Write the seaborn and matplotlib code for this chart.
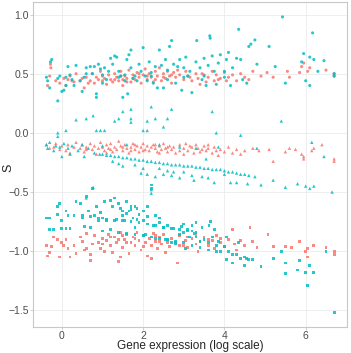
import pandas as pd
import seaborn as sns
import matplotlib.pyplot as plt

# points, (log expression, S)
salmon_top = [
    (-0.35, 0.40), (-0.3, 0.48), (-0.28, 0.58), (-0.27, 0.55), (-0.15, 0.44), (-0.05, 0.42), (0.05, 0.46),
    (0.1, 0.40), (0.15, 0.45), (0.25, 0.44), (0.3, 0.43), (0.35, 0.50), (0.45, 0.44), (0.5, 0.46), (0.55, 0.38),
    (0.6, 0.47), (0.7, 0.44), (0.75, 0.50), (0.8, 0.42), (0.85, 0.47), (0.9, 0.45), (0.95, 0.52), (1.0, 0.44),
    (1.05, 0.46), (1.1, 0.41), (1.15, 0.49), (1.2, 0.45), (1.25, 0.43), (1.3, 0.50), (1.35, 0.47), (1.4, 0.44),
    (1.45, 0.52), (1.5, 0.45), (1.5, 0.40), (1.55, 0.48), (1.6, 0.46), (1.65, 0.53), (1.7, 0.43), (1.75, 0.49),
    (1.8, 0.45), (1.85, 0.51), (1.9, 0.47), (1.95, 0.42), (2.0, 0.49), (2.05, 0.54), (2.1, 0.45), (2.15, 0.50),
    (2.2, 0.47), (2.25, 0.43), (2.3, 0.52), (2.35, 0.48), (2.4, 0.55), (2.45, 0.44), (2.5, 0.50), (2.55, 0.46),
    (2.6, 0.52), (2.65, 0.48), (2.7, 0.42), (2.75, 0.51), (2.8, 0.47), (2.9, 0.49), (3.0, 0.45), (3.05, 0.52),
    (3.1, 0.48), (3.2, 0.44), (3.3, 0.50), (3.35, 0.46), (3.4, 0.41), (3.5, 0.49), (3.6, 0.47), (3.7, 0.52),
    (3.75, 0.44), (3.8, 0.49), (3.9, 0.46), (4.0, 0.51), (4.1, 0.47), (4.2, 0.49), (4.3, 0.44), (4.4, 0.50),
    (4.5, 0.47), (4.7, 0.52), (4.9, 0.48), (5.2, 0.47), (5.55, 0.52), (5.6, 0.47), (5.85, 0.51), (5.95, 0.59),
    (6.1, 0.55), (6.5, 0.53), (6.7, 0.50), (6.7, 0.48), (1.3, 0.45), (1.45, 0.48), (1.6, 0.43), (1.75, 0.46),
    (1.9, 0.50), (2.1, 0.48), (2.3, 0.45), (2.5, 0.47), (2.7, 0.49), (3.15, 0.47), (3.45, 0.50), (3.85, 0.45),
    (0.2, 0.48), (0.65, 0.42), (1.0, 0.48), (2.85, 0.53), (3.55, 0.43), (4.05, 0.44), (4.6, 0.45), (5.05, 0.51),
    (5.9, 0.56), (6.05, 0.52),
]
teal_top = [
    (-0.38, 0.47), (-0.35, 0.44), (-0.3, 0.38), (-0.28, 0.60), (-0.25, 0.62), (-0.1, 0.27), (-0.1, 0.46),
    (-0.05, 0.48), (0.0, 0.35), (0.05, 0.36), (0.1, 0.47), (0.15, 0.56), (0.2, 0.49), (0.25, 0.45), (0.3, 0.40),
    (0.35, 0.57), (0.45, 0.44), (0.5, 0.35), (0.55, 0.47), (0.6, 0.55), (0.7, 0.56), (0.75, 0.50), (0.8, 0.56),
    (0.85, 0.33), (0.85, 0.30), (0.9, 0.58), (0.95, 0.54), (1.0, 0.49), (1.05, 0.55), (1.1, 0.45), (1.15, 0.52),
    (1.2, 0.63), (1.25, 0.58), (1.3, 0.65), (1.35, 0.64), (1.4, 0.52), (1.45, 0.48), (1.5, 0.30), (1.55, 0.49),
    (1.6, 0.62), (1.62, 0.33), (1.65, 0.66), (1.7, 0.70), (1.7, 0.55), (1.75, 0.46), (1.8, 0.48), (1.85, 0.44),
    (1.9, 0.58), (1.95, 0.52), (2.0, 0.72), (2.05, 0.48), (2.1, 0.44), (2.15, 0.60), (2.2, 0.51), (2.25, 0.42),
    (2.3, 0.56), (2.35, 0.38), (2.4, 0.70), (2.45, 0.57), (2.5, 0.38), (2.55, 0.62), (2.6, 0.53), (2.65, 0.73),
    (2.7, 0.78), (2.75, 0.58), (2.8, 0.42), (2.85, 0.56), (2.9, 0.62), (2.95, 0.36), (3.0, 0.55), (3.05, 0.64),
    (3.1, 0.48), (3.15, 0.52), (3.2, 0.34), (3.3, 0.60), (3.32, 0.78), (3.4, 0.55), (3.45, 0.45), (3.5, 0.63),
    (3.55, 0.40), (3.6, 0.57), (3.64, 0.82), (3.65, 0.80), (3.7, 0.65), (3.75, 0.52), (3.8, 0.41), (3.85, 0.59),
    (3.9, 0.66), (4.0, 0.52), (4.05, 0.62), (4.1, 0.68), (4.15, 0.40), (4.2, 0.55), (4.3, 0.63), (4.35, 0.875),
    (4.4, 0.62), (4.45, 0.45), (4.55, 0.42), (4.6, 0.73), (4.65, 0.75), (4.75, 0.785), (4.8, 0.58), (5.1, 0.73),
    (5.25, 0.56), (5.43, 0.98), (5.5, 0.42), (5.9, 0.60), (5.95, 0.67), (6.0, 0.44), (6.1, 0.64), (6.1, 0.40),
    (6.17, 0.845), (6.2, 0.62), (6.3, 0.52), (6.45, 0.61), (6.7, 0.50), (6.7, 0.48), (0.1, 0.40), (0.6, 0.50),
    (1.0, 0.42), (1.4, 0.47), (1.55, 0.44), (2.2, 0.48), (2.6, 0.45), (3.0, 0.47), (3.5, 0.48), (4.0, 0.47),
]
salmon_mid = [
    (-0.38, -0.10), (-0.3, -0.13), (-0.2, -0.12), (-0.15, -0.09), (-0.05, -0.14), (0.0, -0.11), (0.1, -0.15),
    (0.15, -0.10), (0.2, -0.17), (0.3, -0.12), (0.35, -0.08), (0.45, -0.13), (0.5, -0.10), (0.55, -0.16),
    (0.6, -0.12), (0.7, -0.09), (0.75, -0.14), (0.8, -0.11), (0.85, -0.18), (0.9, -0.13), (0.95, -0.08),
    (1.0, -0.12), (1.05, -0.15), (1.1, -0.10), (1.15, -0.13), (1.2, -0.09), (1.25, -0.16), (1.3, -0.12),
    (1.35, -0.14), (1.4, -0.07), (1.45, -0.11), (1.5, -0.15), (1.55, -0.10), (1.6, -0.13), (1.65, -0.17),
    (1.7, -0.12), (1.75, -0.09), (1.8, -0.14), (1.85, -0.11), (1.9, -0.16), (1.95, -0.12), (2.0, -0.09),
    (2.05, -0.14), (2.1, -0.11), (2.15, -0.15), (2.2, -0.12), (2.25, -0.10), (2.3, -0.13), (2.35, -0.16),
    (2.4, -0.11), (2.45, -0.14), (2.5, -0.09), (2.55, -0.13), (2.6, -0.16), (2.65, -0.11), (2.7, -0.14),
    (2.75, -0.12), (2.8, -0.17), (2.9, -0.10), (3.0, -0.13), (3.05, -0.09), (3.1, -0.15), (3.2, -0.12),
    (3.25, -0.17), (3.3, -0.10), (3.35, -0.13), (3.4, -0.16), (3.5, -0.11), (3.55, -0.15), (3.6, -0.13),
    (3.7, -0.17), (3.75, -0.12), (3.8, -0.15), (3.85, -0.19), (3.9, -0.14), (4.0, -0.16), (4.1, -0.12),
    (4.2, -0.17), (4.3, -0.14), (4.4, -0.18), (4.5, -0.15), (4.7, -0.13), (4.85, -0.15), (5.1, -0.14),
    (5.2, -0.24), (5.5, -0.16), (5.6, -0.13), (5.75, -0.14), (5.9, -0.18), (5.95, -0.20), (5.95, -0.22),
    (6.15, -0.15), (6.2, -0.13), (6.4, -0.10), (6.7, -0.22), (6.7, -0.24), (1.2, -0.14), (1.5, -0.12),
    (1.8, -0.10), (2.0, -0.15), (2.3, -0.10), (2.6, -0.12), (2.9, -0.15), (3.15, -0.11), (3.45, -0.14),
    (0.6, -0.14), (1.1, -0.17), (1.7, -0.15), (2.4, -0.17), (3.0, -0.18), (3.6, -0.10),
]
teal_mid = [
    (-0.38, -0.10), (-0.35, -0.13), (-0.3, -0.08), (-0.2, -0.15), (-0.15, -0.11), (-0.1, 0.0), (-0.1, -0.03),
    (-0.05, -0.12), (0.0, -0.20), (0.05, -0.09), (0.1, 0.02), (0.15, -0.13), (0.2, -0.18), (0.25, -0.11),
    (0.35, 0.11), (0.4, -0.15), (0.5, -0.10), (0.55, -0.20), (0.6, 0.12), (0.65, -0.13), (0.77, 0.145),
    (0.8, -0.17), (0.85, 0.02), (0.95, 0.02), (1.05, 0.02), (0.77, -0.46), (0.6, -0.55),
    (0.93, -0.18), (1.0, -0.18), (1.1, -0.19), (1.2, -0.19), (1.3, -0.20), (1.4, -0.20), (1.5, -0.21),
    (1.6, -0.21), (1.7, -0.22), (1.8, -0.22), (1.9, -0.23), (2.0, -0.23), (2.1, -0.24), (2.2, -0.24),
    (2.3, -0.25), (2.4, -0.25), (2.5, -0.26), (2.6, -0.26), (2.7, -0.27), (2.8, -0.27), (2.9, -0.27),
    (3.0, -0.28), (3.1, -0.28), (3.2, -0.28), (3.3, -0.29), (3.4, -0.29), (3.5, -0.30), (3.6, -0.30),
    (3.7, -0.31), (3.8, -0.31), (3.9, -0.31), (4.0, -0.32), (4.1, -0.33), (4.2, -0.33), (4.3, -0.34),
    (4.4, -0.35), (4.5, -0.35), (4.6, -0.36), (4.75, -0.37),
    (1.25, -0.24), (1.4, -0.26), (1.5, -0.28), (1.3, 0.10), (1.4, 0.12), (1.5, 0.18), (1.7, 0.20), (1.7, 0.12),
    (1.7, 0.09), (2.0, 0.02), (2.1, 0.02), (2.1, 0.10), (2.2, 0.22), (2.3, 0.12), (2.5, 0.05), (2.6, 0.12),
    (2.7, 0.20), (1.95, -0.34), (2.1, -0.35), (2.3, -0.37), (2.5, -0.35), (2.7, -0.36), (2.75, -0.33),
    (2.2, -0.48), (2.2, -0.51), (2.0, -0.30), (1.8, -0.27), (2.4, -0.30), (2.6, -0.32), (2.9, -0.38),
    (3.0, -0.33), (3.2, -0.36), (3.25, -0.40), (3.45, -0.37), (3.7, 0.18), (3.8, 0.00), (3.85, -0.12),
    (4.4, -0.02), (4.15, -0.42), (4.3, -0.42), (4.57, -0.43), (4.9, -0.44), (5.2, -0.40), (5.4, 0.10),
    (5.5, -0.46), (5.8, -0.43), (6.0, -0.45), (6.1, -0.47), (6.2, -0.45), (6.15, -0.08), (6.45, -0.20),
    (6.65, -0.50), (4.8, -0.13), (3.55, -0.22), (3.3, -0.13), (2.9, -0.12), (2.4, -0.10), (1.6, -0.10),
    (1.0, -0.11), (3.6, -0.38), (3.75, -0.42), (4.0, -0.35),
]
salmon_low = [
    (-0.38, -0.95), (-0.35, -1.04), (-0.3, -1.01), (-0.25, -0.96), (-0.2, -0.88), (-0.1, -0.90), (-0.05, -1.05),
    (0.0, -0.93), (0.05, -0.95), (0.1, -0.90), (0.15, -0.98), (0.2, -1.05), (0.3, -0.95), (0.35, -1.02),
    (0.45, -0.88), (0.5, -0.92), (0.55, -0.99), (0.6, -0.85), (0.7, -1.03), (0.7, -1.08), (0.75, -0.94),
    (0.8, -0.87), (0.9, -0.93), (0.95, -0.98), (1.0, -0.89), (1.05, -1.0), (1.1, -0.91), (1.15, -0.86),
    (1.2, -0.95), (1.25, -1.01), (1.3, -0.88), (1.35, -0.93), (1.4, -1.09), (1.45, -0.84), (1.5, -0.97),
    (1.55, -0.90), (1.6, -0.86), (1.65, -1.02), (1.7, -0.93), (1.75, -0.88), (1.8, -0.95), (1.85, -0.84),
    (1.9, -0.91), (1.95, -0.99), (2.0, -0.87), (2.05, -0.93), (2.1, -1.04), (2.15, -0.89), (2.2, -0.95),
    (2.25, -0.85), (2.3, -0.92), (2.35, -0.98), (2.4, -0.88), (2.45, -0.94), (2.5, -0.86), (2.55, -1.01),
    (2.6, -0.91), (2.65, -0.96), (2.7, -0.89), (2.8, -0.93), (2.85, -1.10), (2.9, -0.87), (3.0, -0.95),
    (3.05, -0.91), (3.1, -0.97), (3.2, -0.89), (3.3, -0.94), (3.35, -1.0), (3.4, -0.92), (3.5, -0.88),
    (3.6, -0.95), (3.7, -0.91), (3.75, -0.98), (3.8, -0.87), (3.9, -0.93), (4.0, -0.96), (4.1, -0.90),
    (4.2, -0.82), (4.25, -0.94), (4.3, -0.99), (4.4, -0.91), (4.5, -0.95), (4.63, -0.80), (4.7, -0.92),
    (4.8, -0.97), (5.07, -0.86), (5.2, -0.96), (5.5, -0.96), (5.65, -0.97), (5.85, -0.92), (6.0, -1.0),
    (6.05, -0.98), (6.05, -1.05), (6.2, -0.95), (6.5, -0.97), (6.7, -1.0), (6.7, -1.03), (1.4, -0.90),
    (1.6, -0.93), (1.8, -0.89), (2.0, -0.96), (2.3, -0.87), (2.6, -0.93), (3.1, -0.88), (3.6, -0.90),
    (1.2, -0.88), (1.5, -0.87), (2.4, -0.92), (2.9, -0.95), (3.9, -0.89), (0.6, -0.98), (1.0, -0.94),
    (1.45, -1.05), (2.2, -1.06), (3.3, -0.86),
]
teal_low = [
    (-0.38, -0.72), (-0.3, -0.72), (-0.3, -0.82), (-0.2, -0.82), (-0.1, -0.62), (-0.1, -0.69), (-0.05, -0.60),
    (0.0, -0.74), (0.0, -0.81), (0.1, -0.66), (0.1, -0.81), (0.15, -0.70), (0.2, -0.81), (0.3, -0.70),
    (0.35, -0.58), (0.45, -0.60), (0.5, -0.72), (0.55, -0.79), (0.6, -0.54), (0.65, -0.66), (0.7, -0.80),
    (0.75, -0.47), (0.8, -0.70), (0.85, -0.62), (0.9, -0.74), (0.95, -0.67), (1.0, -0.72), (1.05, -0.58),
    (1.1, -0.74), (1.2, -0.57), (1.25, -0.62), (1.3, -0.55), (1.35, -0.73), (1.4, -0.60), (1.45, -0.64),
    (1.5, -0.70), (1.55, -0.74), (1.6, -0.58), (1.65, -0.66), (1.7, -0.62), (1.7, -0.65), (1.75, -0.72),
    (1.8, -0.80), (1.85, -0.73), (1.9, -0.69), (2.0, -0.74), (2.05, -0.86), (2.1, -0.71), (2.2, -0.44),
    (2.2, -0.47), (2.25, -0.78), (2.3, -0.89), (2.4, -0.76), (2.5, -0.80), (2.55, -0.90), (2.6, -0.78),
    (2.7, -0.93), (2.75, -0.81), (2.8, -0.94), (2.9, -0.86), (2.95, -0.79), (3.0, -0.84), (3.05, -0.98),
    (3.1, -0.82), (3.15, -0.88), (3.2, -0.83), (3.25, -0.85), (3.3, -0.88), (3.4, -0.92), (3.5, -0.90),
    (3.6, -0.93), (3.62, -0.78), (3.65, -0.75), (3.7, -0.88), (3.75, -0.82), (3.8, -0.95), (3.85, -0.92),
    (3.9, -1.00), (4.0, -0.96), (4.05, -0.88), (4.1, -1.0), (4.2, -1.03), (4.3, -1.03), (4.35, -0.93),
    (4.4, -1.06), (4.5, -1.05), (4.55, -1.06), (4.6, -1.07), (4.7, -1.07), (4.2, -1.10), (4.05, -1.07),
    (4.5, -1.12), (4.9, -1.13), (5.2, -1.06), (5.4, -1.0), (5.5, -1.19), (5.5, -1.1), (5.8, -1.16),
    (5.85, -1.08), (6.0, -1.18), (6.05, -1.29), (6.1, -1.12), (6.2, -1.18), (6.5, -1.0), (6.7, -1.52),
    (1.0, -0.83), (1.2, -0.82), (1.4, -0.84), (1.6, -0.85), (1.8, -0.86), (2.0, -0.87), (2.2, -0.88),
    (2.4, -0.89), (2.6, -0.90), (2.8, -0.92), (3.0, -0.93), (3.2, -0.95), (3.4, -0.97), (3.6, -0.99),
    (3.8, -1.00), (0.5, -0.70), (0.7, -0.71), (0.9, -0.72), (1.1, -0.73), (1.3, -0.74), (1.5, -0.74),
    (1.7, -0.75), (1.9, -0.76), (2.1, -0.77), (2.3, -0.78), (2.5, -0.80), (2.7, -0.81), (2.9, -0.82),
    (3.1, -0.83), (3.3, -0.84), (1.5, -0.66), (1.6, -0.68), (1.8, -0.62), (1.85, -0.64), (2.0, -0.66),
    (2.1, -0.62), (2.3, -0.70), (2.4, -0.72), (3.0, -0.77), (3.2, -0.78), (3.3, -0.76), (3.45, -0.80),
]

groups = [
    ('a', 'top', salmon_top), ('b', 'top', teal_top),
    ('a', 'mid', salmon_mid), ('b', 'mid', teal_mid),
    ('a', 'low', salmon_low), ('b', 'low', teal_low),
]
rows = []
for col, shp, pts in groups:
    for x, y in pts:
        rows.append({'expr': x, 'S': y, 'col': col, 'shp': shp})
df = pd.DataFrame(rows)

sns.set_style('whitegrid')
plt.rcParams['font.family'] = ['Liberation Sans', 'DejaVu Sans']

fig = plt.figure(figsize=(3.51, 3.53), dpi=100)
ax = fig.add_axes([0.094, 0.074, 0.895, 0.920])

# one call per shape so each marker can get its own size
marker_of = {'top': 'o', 'mid': '^', 'low': 's'}
size_of = {'top': 5, 'mid': 6, 'low': 4}
for shp in ['top', 'mid', 'low']:
    sns.scatterplot(data=df[df.shp == shp], x='expr', y='S', hue='col',
                    palette={'a': '#F8766D', 'b': '#00BFC4'},
                    marker=marker_of[shp], s=size_of[shp], linewidth=0,
                    alpha=0.85, legend=False, ax=ax)

ax.set_xlim(-0.71, 7.02)
ax.set_ylim(-1.64, 1.105)
ax.set_xticks([0, 2, 4, 6])
ax.set_yticks([-1.5, -1.0, -0.5, 0.0, 0.5, 1.0])
ax.set_yticklabels(['\u22121.5', '\u22121.0', '\u22120.5', '0.0', '0.5', '1.0'])
ax.grid(True, color='#ebebeb', linewidth=0.6)
for sp in ax.spines.values():
    sp.set_color('#c8c8c8')
    sp.set_linewidth(0.8)
ax.tick_params(axis='both', length=2, width=0.6, color='#c8c8c8',
               labelsize=7.5, labelcolor='#4d4d4d', pad=0.8, bottom=True, left=True)
ax.set_xlabel('Gene expression (log scale)', fontsize=8.5, va='bottom')
ax.xaxis.set_label_coords(0.5, -25.5 / 325)
ax.set_ylabel('S', fontsize=9)
ax.yaxis.set_label_coords(-0.06, 0.49)

fig.savefig('out.png', dpi=100)
